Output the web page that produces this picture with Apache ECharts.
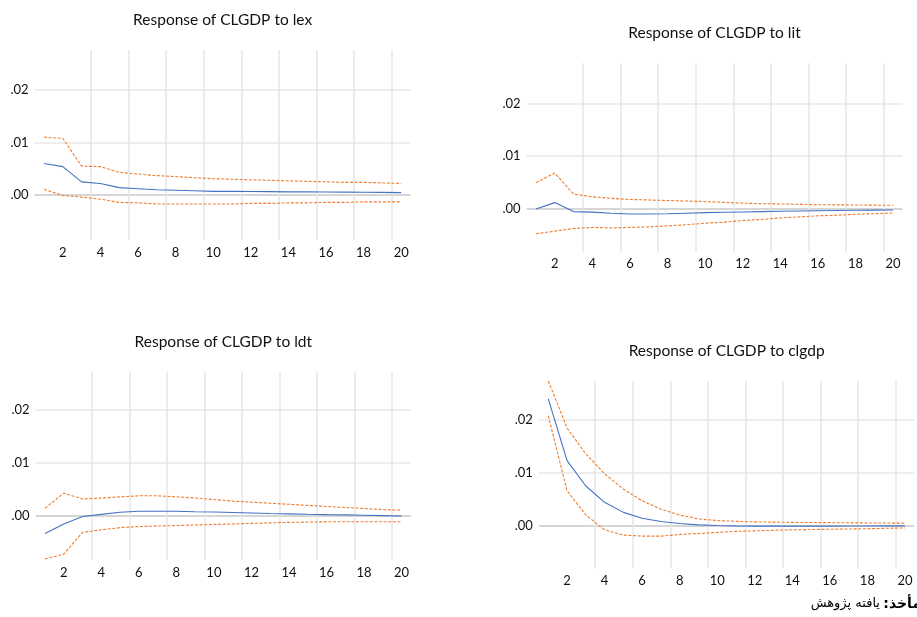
<!DOCTYPE html>
<html>
<head>
<meta charset="utf-8">
<title>Response of CLGDP</title>
<script src="https://cdn.jsdelivr.net/npm/echarts@6/dist/echarts.min.js"></script>
<style>
  html, body { margin: 0; padding: 0; background: #fff; }
  #main { width: 917px; height: 617px; }
</style>
</head>
<body>
<div id="main"></div>
<script>
// periods on the x axis
const periods = [1, 2, 3, 4, 5, 6, 7, 8, 9, 10, 11, 12, 13, 14, 15, 16, 17, 18, 19, 20]
// y ticks and how they are printed
const yTicks = [0, 0.01, 0.02]
const yTickLabels = ['.00', '.01', '.02']

// response of CLGDP to lex
const lexMid = [0.0060, 0.0054, 0.0025, 0.0022, 0.0014, 0.0012, 0.0010, 0.0009, 0.0008, 0.0007, 0.0007, 0.00068, 0.00065, 0.0006, 0.0006, 0.00058, 0.00055, 0.00052, 0.0005, 0.00045]
const lexUp = [0.0110, 0.0108, 0.0055, 0.0054, 0.0043, 0.0040, 0.0037, 0.0035, 0.0033, 0.0031, 0.0030, 0.0029, 0.0028, 0.0027, 0.0026, 0.0025, 0.0024, 0.0024, 0.0023, 0.0022]
const lexLow = [0.0011, -0.0001, -0.0004, -0.0008, -0.0014, -0.0015, -0.0017, -0.0017, -0.0017, -0.0017, -0.0017, -0.0016, -0.0016, -0.0015, -0.0015, -0.0014, -0.0014, -0.0013, -0.0013, -0.0013]

// response of CLGDP to lit
const litMid = [0.0, 0.0012, -0.0005, -0.0006, -0.0008, -0.00095, -0.00095, -0.0009, -0.0008, -0.0007, -0.00063, -0.00057, -0.0005, -0.00044, -0.0004, -0.00035, -0.0003, -0.00025, -0.00022, -0.0002]
const litUp = [0.0050, 0.0068, 0.0028, 0.0023, 0.0020, 0.0018, 0.0017, 0.0016, 0.0015, 0.0014, 0.00125, 0.0011, 0.0010, 0.00095, 0.00088, 0.0008, 0.00078, 0.00075, 0.00072, 0.0007]
const litLow = [-0.0047, -0.0042, -0.0037, -0.0035, -0.0036, -0.0035, -0.0034, -0.0032, -0.0030, -0.0027, -0.0025, -0.0022, -0.0020, -0.0017, -0.0015, -0.0013, -0.0012, -0.0010, -0.0009, -0.00075]

// response of CLGDP to ldt
const ldtMid = [-0.0033, -0.0015, -0.0001, 0.0003, 0.0007, 0.0009, 0.0009, 0.0009, 0.0008, 0.00075, 0.00066, 0.00057, 0.00048, 0.0004, 0.00032, 0.00025, 0.0002, 0.00013, 0.00007, 0.0]
const ldtUp = [0.00145, 0.0043, 0.0032, 0.0034, 0.0036, 0.0038, 0.0038, 0.0036, 0.0034, 0.0031, 0.0028, 0.0026, 0.0024, 0.0022, 0.0020, 0.0018, 0.0016, 0.0014, 0.0012, 0.0011]
const ldtLow = [-0.0081, -0.0072, -0.0031, -0.0026, -0.0022, -0.0020, -0.0019, -0.0018, -0.0017, -0.0016, -0.0015, -0.0014, -0.0013, -0.0012, -0.00115, -0.0011, -0.0011, -0.0011, -0.0011, -0.0011]

// response of CLGDP to clgdp
const clgdpMid = [0.0240, 0.0123, 0.0075, 0.0044, 0.0025, 0.0014, 0.00076, 0.0004, 0.00013, 0.0, -0.00006, -0.0001, -0.0001, -0.0001, -0.0001, -0.0001, -0.00008, -0.00007, -0.00006, -0.00005]
const clgdpUp = [0.0274, 0.0185, 0.0136, 0.0098, 0.0069, 0.0047, 0.0031, 0.0020, 0.00126, 0.00095, 0.0008, 0.0007, 0.00065, 0.0006, 0.00058, 0.00055, 0.00052, 0.0005, 0.00048, 0.00045]
const clgdpLow = [0.0208, 0.0066, 0.0020, -0.0008, -0.0018, -0.0020, -0.0020, -0.0017, -0.0015, -0.0013, -0.0011, -0.0010, -0.0009, -0.0008, -0.00075, -0.0007, -0.00065, -0.0006, -0.00052, -0.00045]

const FONT = 'Lato'
const BLUE = '#4472c4'
const ORANGE = '#ed7d31'

// one entry per small chart: where it sits and the y range
const panels = [
  { title: 'Response of CLGDP to lex', mid: lexMid, up: lexUp, low: lexLow, left: 34.6, top: 50, width: 376, height: 190, min: -0.00857, max: 0.02762 },
  { title: 'Response of CLGDP to lit', mid: litMid, up: litUp, low: litLow, left: 526.6, top: 63.3, width: 375.8, height: 188.4, min: -0.0081, max: 0.0276 },
  { title: 'Response of CLGDP to ldt', mid: ldtMid, up: ldtUp, low: ldtLow, left: 35.6, top: 371.7, width: 375.4, height: 188.3, min: -0.0083, max: 0.0272 },
  { title: 'Response of CLGDP to clgdp', mid: clgdpMid, up: clgdpUp, low: clgdpLow, left: 538.9, top: 381, width: 375.4, height: 187.3, min: -0.0081, max: 0.0274 }
]

const chart = echarts.init(document.getElementById('main'), null, { renderer: 'canvas' })

function bandSeries (data, i) {
  return {
    type: 'line',
    xAxisIndex: i,
    yAxisIndex: i,
    data: data,
    symbol: 'none',
    silent: true,
    lineStyle: { color: ORANGE, width: 1.1, type: [3, 1.6] }
  }
}

const option = {
  animation: false,
  backgroundColor: '#fff',
  textStyle: { fontFamily: FONT },
  grid: panels.map(p => ({ left: p.left, top: p.top, width: p.width, height: p.height })),
  xAxis: panels.map((p, i) => ({
    type: 'category',
    gridIndex: i,
    data: periods,
    boundaryGap: true,
    axisLine: { show: false },
    axisTick: { show: false },
    axisLabel: {
      interval: (idx) => idx % 2 === 1,
      margin: 6,
      fontSize: 13,
      fontFamily: FONT,
      color: '#111'
    },
    splitLine: {
      show: true,
      interval: (idx) => idx % 2 === 1,
      showMinLine: false,
      showMaxLine: false,
      lineStyle: { color: '#e6e6e6', width: 1.5 }
    }
  })),
  yAxis: panels.map((p, i) => ({
    type: 'value',
    gridIndex: i,
    min: p.min,
    max: p.max,
    axisLine: { show: false },
    axisTick: { show: false, customValues: yTicks },
    axisLabel: {
      customValues: yTicks,
      formatter: (v) => yTickLabels[yTicks.indexOf(v)] || '',
      margin: 6,
      fontSize: 13,
      fontFamily: FONT,
      color: '#111'
    },
    splitLine: {
      show: true,
      showMinLine: true,
      showMaxLine: true,
      // first colour is the zero line
      lineStyle: { color: ['#c8c8c8', '#e8e8e8', '#e8e8e8'], width: 1.6 }
    }
  })),
  series: panels.flatMap((p, i) => [
    bandSeries(p.up, i),
    bandSeries(p.low, i),
    {
      type: 'line',
      xAxisIndex: i,
      yAxisIndex: i,
      data: p.mid,
      symbol: 'none',
      silent: true,
      lineStyle: { color: BLUE, width: 1.1 }
    }
  ]),
  graphic: panels.map(p => ({
    type: 'text',
    x: p.left + p.width / 2,
    y: p.top - 30,
    style: {
      text: p.title,
      font: '15.5px ' + FONT,
      fill: '#111',
      textAlign: 'center',
      textVerticalAlign: 'middle'
    }
  })).concat([{
    // source line under the last chart
    type: 'text',
    x: 921,
    y: 604,
    style: {
      text: '{n|یافته پژوهش} {b|مأخذ:\u200F}',
      textAlign: 'right',
      textVerticalAlign: 'middle',
      rich: {
        n: { fontFamily: 'DejaVu Sans', fontSize: 13, fill: '#000', color: '#000' },
        b: { fontFamily: 'DejaVu Sans', fontSize: 14, fontWeight: 'bold', fill: '#000', color: '#000' }
      }
    }
  }])
}

chart.setOption(option)
</script>
</body>
</html>
